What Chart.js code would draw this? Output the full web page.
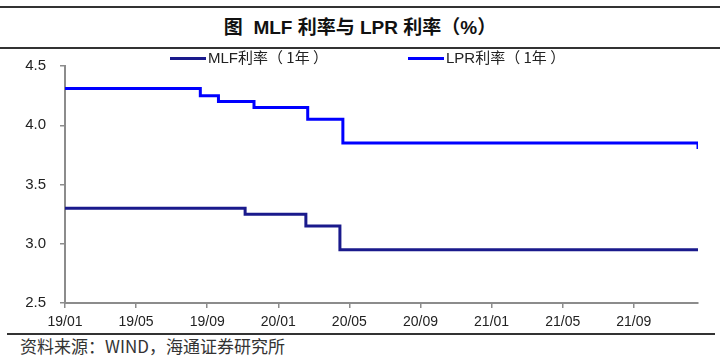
<!DOCTYPE html>
<html lang="zh-CN">
<head>
    <meta charset="UTF-8">
    <title>MLF利率与LPR利率</title>
    <script src="https://cdn.jsdelivr.net/npm/chart.js@4/dist/chart.umd.min.js"></script>
    <style>
        body { margin: 0; width: 720px; height: 359px; background: #fff; position: relative; overflow: hidden;
               font-family: "Liberation Sans", Arial, "Noto Sans CJK SC", sans-serif; }
        .rule { position: absolute; background: #333; }
        #title { position: absolute; left: 0; width: 720px; top: 12px; text-align: center;
                 font-size: 19px; font-weight: bold; color: #111; }
        .leg { position: absolute; top: 46px; font-size: 15px; color: #222; white-space: nowrap; }
        .leg i { display: inline-block; width: 36px; height: 3px; vertical-align: middle; margin-right: 2px; position: relative; top: -1px; }
        .leg b { font-weight: normal; font-family: "Noto Sans CJK SC", sans-serif; }
        #src { position: absolute; left: 20px; top: 333px; font-size: 17px; color: #333;
               font-family: "Noto Sans CJK SC", sans-serif; }
        #box { position: absolute; left: 0; top: 43px; width: 720px; height: 289px; }
    </style>
</head>
<body>
    <div class="rule" style="left:0;top:6px;width:720px;height:2px"></div>
    <div id="title">图&nbsp; MLF 利率与 LPR 利率（%）</div>
    <div class="rule" style="left:0;top:47px;width:720px;height:2px"></div>
    <div id="box"><canvas id="myChart"></canvas></div>
    <div class="leg" style="left:170px"><i style="background:#1a1a8c"></i>MLF<b>利率（ 1年 ）</b></div>
    <div class="leg" style="left:408px"><i style="background:#0000ff"></i>LPR<b>利率（ 1年 ）</b></div>
    <div class="rule" style="left:7px;top:333px;width:708px;height:1.5px"></div>
    <div id="src">资料来源：WIND，海通证券研究所</div>
    <script>
        // 调整日期与利率
        const mlfDates = ['2019-01-01', '2019-11-05', '2020-02-17', '2020-04-15', '2021-12-20']
        const mlfRates = [3.30, 3.25, 3.15, 2.95, 2.95]
        const lprDates = ['2019-01-01', '2019-08-20', '2019-09-20', '2019-11-20', '2020-02-20', '2020-04-20', '2021-12-20']
        const lprRates = [4.31, 4.25, 4.20, 4.15, 4.05, 3.85, 3.80]
        const xTickLabels = ['19/01', '19/05', '19/09', '20/01', '20/05', '20/09', '21/01', '21/05', '21/09']
        const xEnd = '2021-12-20'

        // months since 2019/01
        function toM(s) {
            const p = s.split('-').map(Number)
            const dim = new Date(p[0], p[1], 0).getDate()
            return (p[0] - 2019) * 12 + (p[1] - 1) + (p[2] - 1) / dim
        }
        const tickPos = xTickLabels.map(l => toM('20' + l.slice(0, 2) + '-' + l.slice(3) + '-01'))

        const axisGrey = '#8c8c8c'

        new Chart('myChart', {
            type: 'line',
            data: {
                datasets: [{
                    label: 'MLF利率（1年）',
                    data: mlfDates.map((d, i) => ({ x: toM(d), y: mlfRates[i] })),
                    borderColor: '#1a1a8c',
                    borderWidth: 3,
                    stepped: true,
                    pointRadius: 0,
                    borderCapStyle: 'butt',
                    borderJoinStyle: 'miter'
                }, {
                    label: 'LPR利率（1年）',
                    data: lprDates.map((d, i) => ({ x: toM(d), y: lprRates[i] })),
                    borderColor: '#0000ff',
                    borderWidth: 3,
                    stepped: true,
                    pointRadius: 0,
                    borderCapStyle: 'butt',
                    borderJoinStyle: 'miter'
                }]
            },
            options: {
                responsive: true,
                maintainAspectRatio: false,
                animation: false,
                layout: { padding: { top: 5, right: 22, left: 0, bottom: 0 } },
                plugins: { legend: { display: false }, tooltip: { enabled: false } },
                scales: {
                    x: {
                        type: 'linear',
                        min: 0,
                        max: toM(xEnd),
                        afterBuildTicks: s => { s.ticks = tickPos.map(v => ({ value: v })) },
                        afterFit: s => { s.height = 29 },
                        grid: { drawOnChartArea: false, drawTicks: true, tickLength: 5, color: axisGrey, lineWidth: 1.5 },
                        border: { color: axisGrey, width: 2 },
                        ticks: {
                            autoSkip: false, maxRotation: 0, padding: 6,
                            color: '#222', font: { size: 14, family: 'Liberation Sans' },
                            callback: (v, i) => xTickLabels[i]
                        }
                    },
                    y: {
                        min: 2.5,
                        max: 4.5,
                        afterFit: s => { s.width = 65 },
                        grid: { drawOnChartArea: false, drawTicks: true, tickLength: 5, color: axisGrey, lineWidth: 1.5 },
                        border: { color: axisGrey, width: 2 },
                        ticks: {
                            stepSize: 0.5, padding: 14,
                            color: '#222', font: { size: 15, family: 'Liberation Sans' },
                            callback: v => v.toFixed(1)
                        }
                    }
                }
            }
        })
    </script>
</body>
</html>
